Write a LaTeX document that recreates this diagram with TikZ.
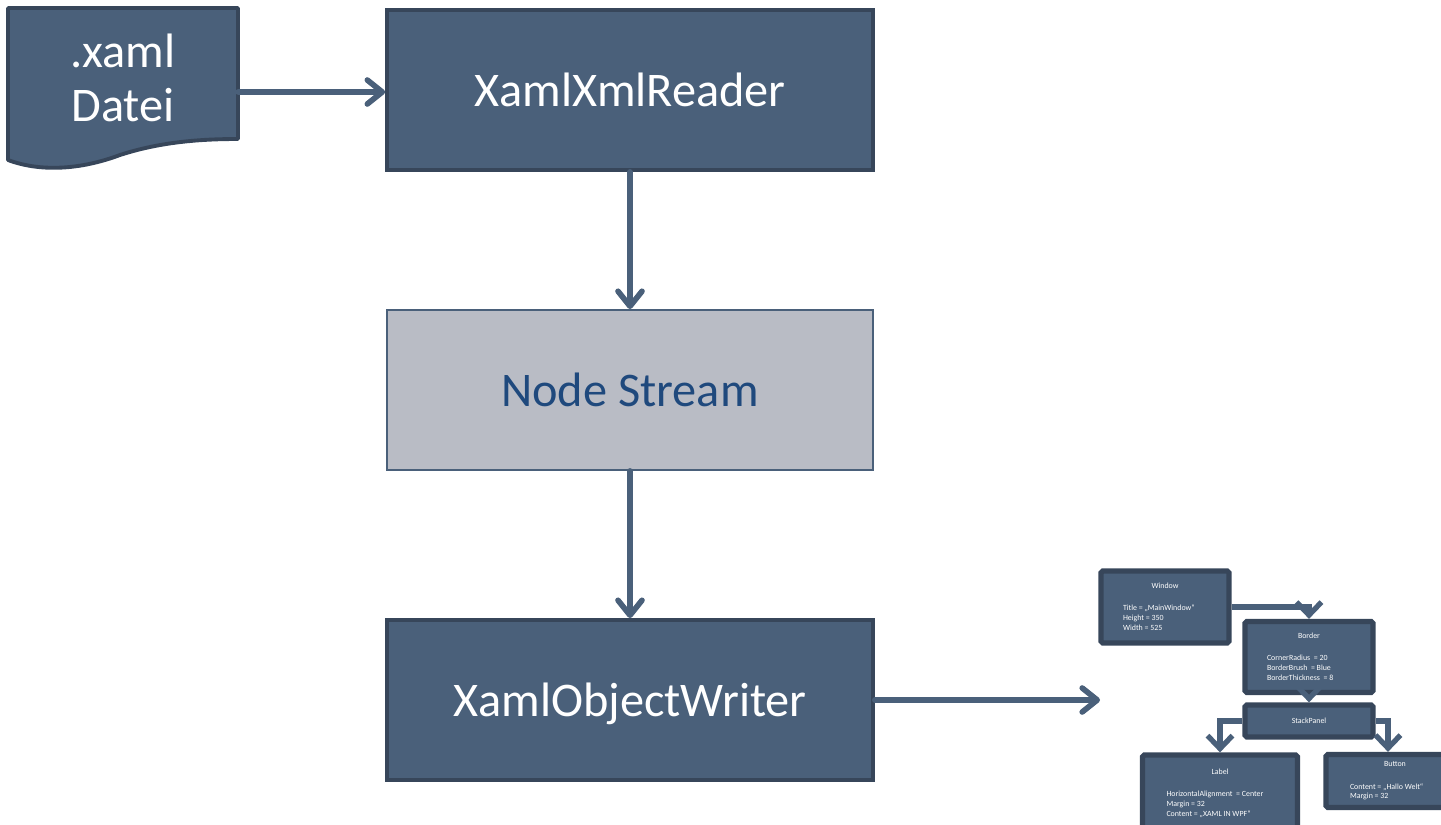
\documentclass[tikz,border=0pt]{standalone}
\usepackage{fontspec}
\setmainfont{Carlito}
\usetikzlibrary{arrows.meta,positioning,calc}
\definecolor{boxblue}{RGB}{74,96,122}
\definecolor{boxedge}{RGB}{55,70,90}
\definecolor{streamgray}{RGB}{185,188,197}
\definecolor{streamtext}{RGB}{31,73,125}
\newcommand{\objtext}[3]{\parbox{#1}{\centering #2\par\vspace{7pt}\raggedright #3}}
\begin{document}
\begin{tikzpicture}
[x=0.02cm,y=-0.02cm,
bigbox/.style={shape=rectangle,draw=boxedge,fill=boxblue,line width=2.2pt,minimum width=9.72cm,minimum height=3.2cm,text=white,text depth=0pt,font=\fontsize{27.5}{32}\selectfont},
streambox/.style={bigbox,draw=boxblue,fill=streamgray,line width=1.1pt,text=streamtext},
objbox/.style={shape=rectangle,draw=boxedge,fill=boxblue,line width=3pt,rounded corners=1pt,text=white,font=\fontsize{4.5}{5.6}\selectfont,inner sep=0pt},
flow/.style={line width=3.2pt,boxblue,line cap=round,-{Straight Barb[length=.3cm,width=.48cm,line cap=round,line join=round]}},
objflow/.style={line width=3pt,boxblue,-{Straight Barb[length=.26cm,width=.5cm]}}]
\useasboundingbox (0,0) rectangle (1441,825);
%
% the xaml file
\node (doc) [minimum width=4.6cm,minimum height=3.36cm,inner sep=0pt] at (123,92) {};
\draw[boxedge,fill=boxblue,line width=2.2pt,line join=round]
  (8,8) -- (238,8) -- (238,139) .. controls (200,139) and (160,142) .. (120,155)
  .. controls (80,170) and (40,172) .. (8,160) -- cycle;
\node (doctext) [text=white,font=\fontsize{27.5}{31}\selectfont,align=center] at (123,78) {.xaml\\Datei};
%
\node (reader) [bigbox] at (630,90) {XamlXmlReader};
\node (stream) [streambox] at (630,390) {Node Stream};
\node (writer) [bigbox] at (630,700) {XamlObjectWriter};
%
\draw[flow] (doc.east) -- (doc.east -| reader.west);
\draw[flow] (reader) -- (stream);
\draw[flow] (stream) -- (writer);
%
% object tree
\node (win) [objbox,minimum width=2.56cm,minimum height=1.44cm] at (1165,607)
  {\objtext{1.68cm}{Window}{Title = „MainWindow“\\Height = 350\\Width = 525}};
\node (border) [objbox,minimum width=2.56cm,minimum height=1.42cm] at (1309,657)
  {\objtext{1.68cm}{Border}{CornerRadius\ \ = 20\\BorderBrush\ \ = Blue\\BorderThickness\ \ = 8}};
\node (stack) [objbox,minimum width=2.56cm,minimum height=.64cm] at (1309,721) {StackPanel};
\node (label) [objbox,minimum width=3.1cm,minimum height=1.52cm] at (1220,793)
  {\objtext{2.14cm}{Label}{HorizontalAlignment\ \ = Center\\Margin = 32\\Content = „XAML IN WPF“}};
\node (button) [objbox,minimum width=2.76cm,minimum height=1.06cm] at (1395,781)
  {\objtext{1.8cm}{Button}{Content = „Hallo Welt“\\Margin = 32}};
%
\draw[flow] (writer.east) -- (1100,700);
\draw[objflow] (win.east) -| (border.north);
\draw[objflow] (border) -- (stack);
\draw[objflow] (stack.west) -| (label.north);
\draw[objflow] (stack.east) -| ($(button.north)+(-7,0)$);
\end{tikzpicture}
\end{document}
